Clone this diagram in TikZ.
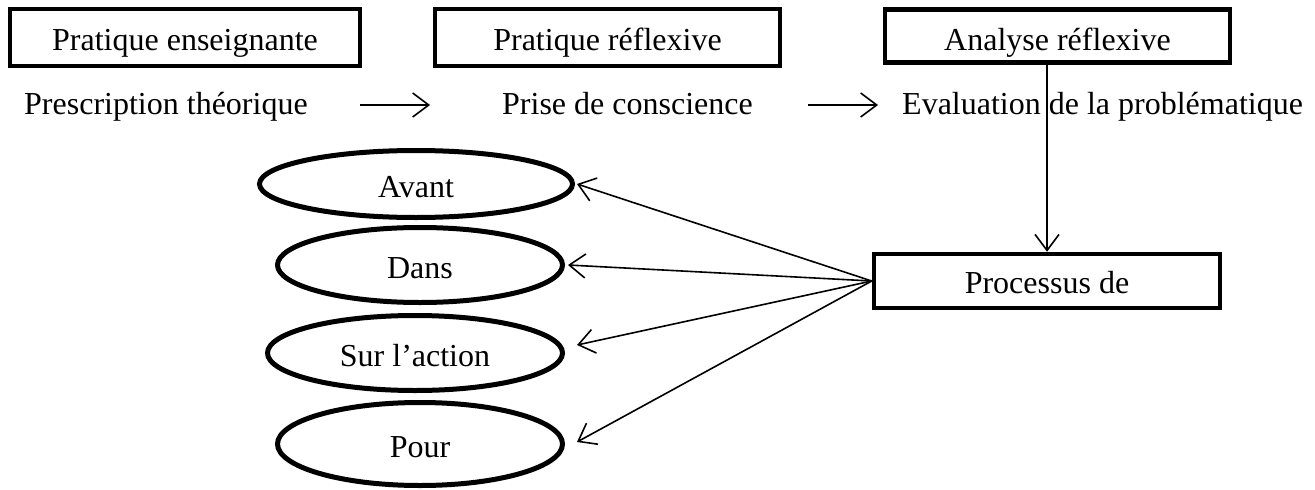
\documentclass[tikz,border=0pt]{standalone}
\usepackage{fontspec}
\setmainfont{Liberation Serif}
\usetikzlibrary{arrows.meta,shapes.geometric,calc}
\begin{document}
\begin{tikzpicture}[x=1pt,y=-1pt,
  every node/.style={font=\fontsize{32}{36}\selectfont},
  thickbox/.style={draw,line width=4.5pt,rectangle,inner sep=0pt},
  oval/.style={draw,line width=5pt,ellipse,inner sep=0pt,text height=28pt,text depth=2pt},
  lbl/.style={inner sep=0pt,anchor=base west},
  arr/.style={line width=1.6pt,-{Straight Barb[length=16pt,width=24pt,line width=1.6pt]}}]
\useasboundingbox (0,0) rectangle (1315,490);
% top boxes
\node[thickbox,minimum width=350pt,minimum height=57pt,text height=31pt,text depth=5pt] (b1) at (185,37.5) {Pratique enseignante};
\node[thickbox,minimum width=345pt,minimum height=57pt,text height=31pt,text depth=5pt] (b2) at (607.5,37.5) {Pratique réflexive};
\node[thickbox,minimum width=345pt,minimum height=53pt,text height=32pt,text depth=4pt] (b3) at (1057.5,36) {Analyse réflexive};
% second row texts
\node[lbl] (t1) at (24,114) {Prescription théorique};
\node[lbl] (t2) at (502,114) {Prise de conscience};
\node[lbl] (t3) at (902,114) {Evaluation de la problématique};
\coordinate (a1s) at (360,105);
\coordinate (a1e) at (430,105);
\coordinate (a2s) at (808,105);
\coordinate (a2e) at (878,105);
\draw[arr] (a1s) -- (a1e);
\draw[arr] (a2s) -- (a2e);
% process box
\node[thickbox,minimum width=346pt,minimum height=54pt,text height=28pt,text depth=4pt] (proc) at (1047,281) {Processus de};
\draw[arr] (proc.north |- b3.south) -- (proc.north);
% ellipses
\node[oval,minimum width=313pt,minimum height=67pt] (avant) at (416,184) {Avant};
\node[oval,minimum width=285pt,minimum height=75pt] (dans) at (420,265) {Dans};
\node[oval,minimum width=295pt,minimum height=75pt] (sur) at (415,353) {Sur l’action};
\node[oval,minimum width=285pt,minimum height=83pt] (pour) at (420,444) {Pour};
\draw[arr] (proc.west) -- ([xshift=2pt]avant.east);
\draw[arr] (proc.west) -- ([xshift=3pt]dans.east);
\draw[arr] (proc.west) -- ([xshift=12pt,yshift=8pt]sur.east);
\draw[arr] (proc.west) -- ([xshift=12pt,yshift=2pt]pour.east);
\end{tikzpicture}
\end{document}
